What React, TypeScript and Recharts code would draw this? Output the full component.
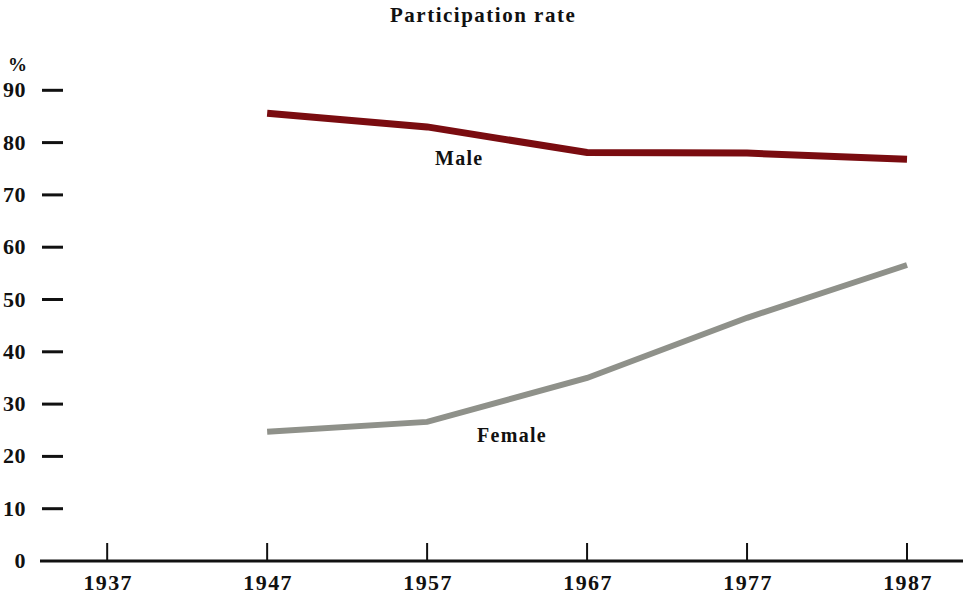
import { LineChart, Line, XAxis, YAxis } from 'recharts';

const years = [1947, 1957, 1967, 1977, 1987];
const maleRate = [85.6, 83.0, 78.1, 78.0, 76.8];
const femaleRate = [24.7, 26.6, 35.0, 46.5, 56.6];
const yearTicks = [1937, 1947, 1957, 1967, 1977, 1987];
const rateTicks = [0, 10, 20, 30, 40, 50, 60, 70, 80, 90];

const data = years.map((year, i) => ({ year, male: maleRate[i], female: femaleRate[i] }));

const font = '"Liberation Serif", "Times New Roman", serif';

const YTick = ({ y, payload }: any) => (
  <g>
    <text x={26} y={y} dy={7} textAnchor="end" fontFamily={font} fontWeight="bold" fontSize={22} fill="#111" letterSpacing={0.5}>
      {payload.value}
    </text>
    {payload.value !== 0 && <line x1={42} x2={63} y1={y} y2={y} stroke="#111" strokeWidth={3} />}
  </g>
);

const XTick = ({ x, y, payload }: any) => (
  <g>
    <line x1={x} x2={x} y1={y} y2={y - 18} stroke="#111" strokeWidth={2} />
    <text x={x + 1} y={y + 29} textAnchor="middle" fontFamily={font} fontWeight="bold" fontSize={22} fill="#111" letterSpacing={1.4}>
      {payload.value}
    </text>
  </g>
);

const labelStyle = {
  position: 'absolute' as const,
  fontFamily: font,
  fontWeight: 'bold' as const,
  color: '#111',
  lineHeight: 1,
  whiteSpace: 'nowrap' as const,
};

export default function App() {
  return (
    <div style={{ position: 'absolute', left: 0, top: 0, width: 968, height: 597, background: '#fff' }}>
      <LineChart width={968} height={597} data={data} margin={{ top: 38, right: 5, bottom: 0, left: 0 }}>
        <XAxis
          dataKey="year"
          type="number"
          domain={[1932.8, 1990.5]}
          ticks={yearTicks}
          axisLine={{ stroke: '#111', strokeWidth: 3 }}
          tickLine={false}
          tickSize={0}
          tickMargin={0}
          height={36}
          tick={<XTick />}
          interval={0}
        />
        <YAxis
          type="number"
          domain={[0, 100]}
          ticks={rateTicks}
          axisLine={false}
          tickLine={false}
          width={40}
          tick={<YTick />}
          interval={0}
        />
        <Line
          type="linear"
          dataKey="male"
          stroke="#7a0c10"
          strokeWidth={7}
          dot={false}
          isAnimationActive={false}
        />
        <Line
          type="linear"
          dataKey="female"
          stroke="#8f918a"
          strokeWidth={6}
          dot={false}
          isAnimationActive={false}
        />
      </LineChart>
      <div style={{ ...labelStyle, left: 390, top: 5, fontSize: 21, letterSpacing: 1.5 }}>
        Participation rate
      </div>
      <div style={{ ...labelStyle, left: 8, top: 55, fontSize: 19 }}>%</div>
      <div style={{ ...labelStyle, left: 435, top: 148, fontSize: 20, letterSpacing: 1.3 }}>Male</div>
      <div style={{ ...labelStyle, left: 477, top: 425, fontSize: 20, letterSpacing: 1.3 }}>Female</div>
    </div>
  );
}
